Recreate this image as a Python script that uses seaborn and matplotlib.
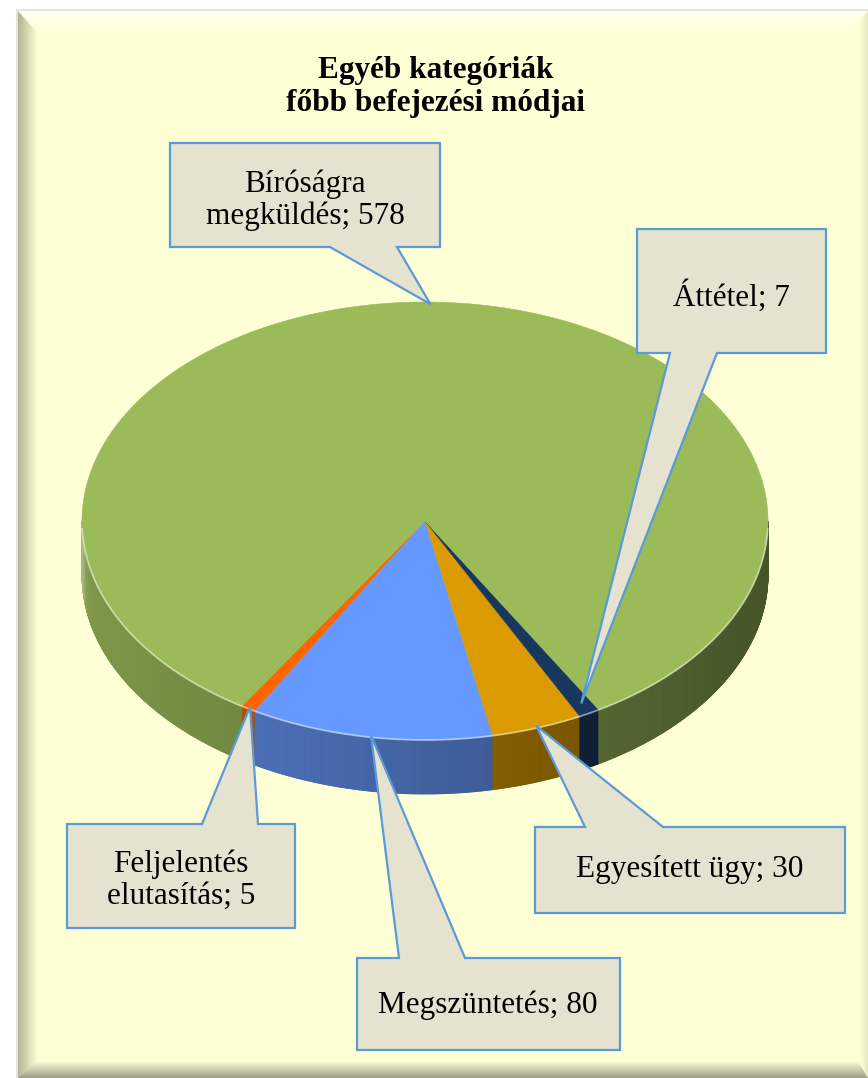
import numpy as np
import matplotlib
matplotlib.use("Agg")
import matplotlib.pyplot as plt
import seaborn as sns
from matplotlib.patches import Polygon, Rectangle
from matplotlib.collections import PolyCollection
from matplotlib.colors import to_rgb

sns.set_theme(style="white")
plt.rcParams["font.family"] = ["Liberation Serif", "DejaVu Serif"]

# ---- data -------------------------------------------------------------
title = "Egyéb kategóriák\nfőbb befejezési módjai"
categories = ["Feljelentés\nelutasítás", "Megszüntetés", "Egyesített ügy",
              "Áttétel", "Bíróságra\nmegküldés"]
values = [5, 80, 30, 7, 578]
slice_colors = ["#FF6600", "#6699FF", "#DB9B00", "#17375E", "#9BBB59"]

# ---- canvas -----------------------------------------------------------
W, H = 868, 1078
fig = plt.figure(figsize=(W / 100, H / 100), dpi=100)
fig.patch.set_facecolor("white")
ax = fig.add_axes([0, 0, 1, 1])
ax.axis("off")

palette = sns.color_palette(slice_colors)
panel_color = "#FFFFD6"


def gradient_patch(verts, c0, c1, direction, extent, z):
    n = 64
    ramp = np.linspace(0, 1, n)
    c0, c1 = np.array(to_rgb(c0)), np.array(to_rgb(c1))
    if direction == "x":
        img = c0[None, None, :] * (1 - ramp)[None, :, None] + c1[None, None, :] * ramp[None, :, None]
    else:
        img = c0[None, None, :] * (1 - ramp)[:, None, None] + c1[None, None, :] * ramp[:, None, None]
    x0, x1, y0, y1 = extent
    im = ax.imshow(img, extent=(x0, x1, y1, y0), origin="upper", aspect="auto",
                   interpolation="bilinear", zorder=z)
    clip = Polygon(verts, closed=True, facecolor="none", edgecolor="none",
                   transform=ax.transData)
    ax.add_patch(clip)
    im.set_clip_path(clip)


# chart area panel with bevelled edges
ax.add_patch(Rectangle((16, 9), W, H, facecolor="#E4E4E0", edgecolor="none", zorder=0))
ax.add_patch(Rectangle((18, 11), W, H, facecolor=panel_color, edgecolor="none", zorder=0.5))
gradient_patch([(18, 11), (W, 11), (W - 20, 33), (40, 33)],
               "#FFFFF4", panel_color, "y", (18, W, 11, 33), 1)
gradient_patch([(18, 11), (38, 33), (38, 1060), (18, H)],
               "#B4B494", panel_color, "x", (18, 38, 11, H), 1.1)
gradient_patch([(18, H), (36, 1061), (W - 10, 1061), (W, H)],
               panel_color, "#9E9E88", "y", (18, W, 1061, H), 1.2)
gradient_patch([(860, 20), (W, 11), (W, H), (860, 1060)],
               panel_color, "#E8E8C0", "x", (860, W, 11, H), 1.05)

# ---- 3-D pie ----------------------------------------------------------
cx, cy, a, b, depth = 425, 521, 343, 219, 54
start = 237.7
total = float(sum(values))
edges = start + 360.0 * np.concatenate([[0], np.cumsum(values)]) / total


def rim(t, r=1.0):
    t = np.radians(t)
    return cx + r * a * np.cos(t), cy - r * b * np.sin(t)


side_polys, side_cols = [], []
for col, t1, t2 in zip(palette, edges[:-1], edges[1:]):
    ts = np.append(np.arange(t1, t2, 0.25), t2)
    base = np.array(to_rgb(col))
    for ta, tb in zip(ts[:-1], ts[1:]):
        tm = 0.5 * (ta + tb)
        if np.sin(np.radians(tm)) >= 0:
            continue
        xa, ya = rim(ta)
        xb, yb = rim(tb)
        side_polys.append([(xa, ya), (xb, yb), (xb, yb + depth), (xa, ya + depth)])
        f = 0.63 - 0.18 * np.cos(np.radians(tm))
        c = base * f
        glow = 0.35 * np.exp(-(((tm % 360) - 184) / 5.0) ** 2)
        c = c + (1 - c) * glow
        side_cols.append(np.clip(c, 0, 1))
ax.add_collection(PolyCollection(side_polys, facecolors=side_cols, edgecolors=side_cols,
                                 linewidths=0.6, zorder=3))

for col, t1, t2 in zip(palette, edges[:-1], edges[1:]):
    ts = np.append(np.arange(t1, t2, 0.25), t2)
    xs, ys = rim(ts)
    verts = [(cx, cy)] + list(zip(xs, ys))
    ax.add_patch(Polygon(verts, closed=True, facecolor=col, edgecolor=col,
                         linewidth=0.4, zorder=4))

# light rim along the front edge of the top face
tf = np.linspace(182, 358, 200)
fx, fy = rim(tf)
ax.plot(fx, fy, color="white", alpha=0.5, lw=1.3, zorder=5)

# ---- callout labels ---------------------------------------------------
# box (x0, y0, x1, y1), pointer base (bx0, bx1), pointer side, text centre
callouts = [
    ((67, 824, 295, 928), (202, 258), "top", (181, 880), 0.99),
    ((357, 958, 620, 1050), (399, 465), "top", (488, 1005), 0.99),
    ((535, 827, 845, 913), (585, 663), "top", (690, 869), 0.99),
    ((637, 229, 826, 353), (670, 717), "bottom", (731, 296), 0.95),
    ((170, 143, 440, 247), (330, 397), "bottom", (305, 200), 0.99),
]

mids = 0.5 * (edges[:-1] + edges[1:])
for name, val, mid, (box, (bx0, bx1), side, (tx, ty), r) in zip(categories, values, mids, callouts):
    px, py = rim(mid, r)
    x0, y0, x1, y1 = box
    if side == "top":
        verts = [(x0, y0), (bx0, y0), (px, py), (bx1, y0), (x1, y0), (x1, y1), (x0, y1)]
    else:
        verts = [(x0, y0), (x1, y0), (x1, y1), (bx1, y1), (px, py), (bx0, y1), (x0, y1)]
    ax.add_patch(Polygon(verts, closed=True, facecolor="#E6E2D0", edgecolor="#5B9BD5",
                         linewidth=1.6, joinstyle="miter", zorder=6))
    ax.text(tx, ty, f"{name}; {val}", ha="center", va="center", fontsize=22.5,
            linespacing=1.1, color="black", zorder=7)

ax.text(436, 87, title, ha="center", va="center", fontsize=22.5, fontweight="bold",
        linespacing=1.15, color="black", zorder=7)

ax.set_xlim(0, W)
ax.set_ylim(H, 0)
fig.savefig("out.png", dpi=100, facecolor=fig.get_facecolor())
